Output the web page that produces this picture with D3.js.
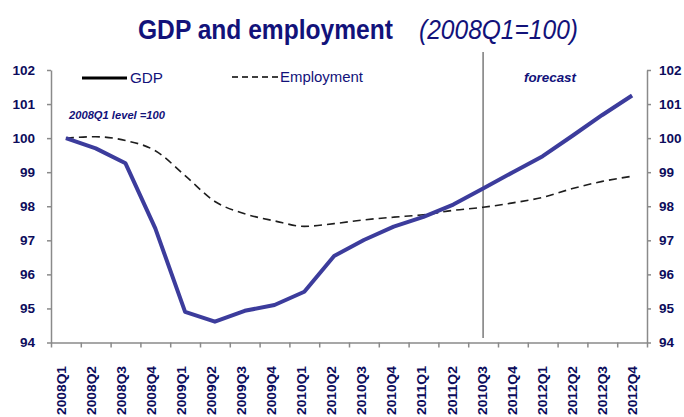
<!DOCTYPE html>
<html>
<head>
<meta charset="utf-8">
<script src="https://cdn.jsdelivr.net/npm/d3@7"></script>
<style>
  html, body { margin: 0; padding: 0; background: #fff; }
  svg { display: block; font-family: "Liberation Sans", Arial, sans-serif; }
</style>
</head>
<body>
<svg id="chart" width="684" height="417"></svg>
<script>
// Quarterly index, 2008Q1 = 100
const quarters = ["2008Q1","2008Q2","2008Q3","2008Q4","2009Q1","2009Q2","2009Q3","2009Q4",
  "2010Q1","2010Q2","2010Q3","2010Q4","2011Q1","2011Q2","2010Q3","2011Q4",
  "2012Q1","2012Q2","2012Q3","2012Q4"];
const gdp = [100.00, 99.70, 99.26, 97.35, 94.90, 94.61, 94.93, 95.10, 95.49, 96.54,
  97.01, 97.40, 97.69, 98.05, 98.52, 99.00, 99.47, 100.07, 100.68, 101.25];
const employment = [100.00, 100.04, 99.93, 99.63, 98.90, 98.14, 97.78, 97.57, 97.41, 97.49,
  97.60, 97.68, 97.75, 97.88, 97.97, 98.10, 98.26, 98.52, 98.73, 98.88];
const yTicks = [94, 95, 96, 97, 98, 99, 100, 101, 102];
const forecastStart = 14;

const navy = "#12127a";
const tickNavy = "#0c0c5c";
const axisGrey = "#8a8a8a";

const svg = d3.select("#chart");
const plot = { left: 51, right: 647, top: 70, bottom: 342.5 };

const idx = d3.range(quarters.length);
const x = d3.scaleBand().domain(idx).range([plot.left, plot.right]).padding(0);
const xEdge = d3.scaleLinear().domain([0, quarters.length]).range([plot.left, plot.right]);
const xLabel = d3.scalePoint().domain(idx).range([61, 632]);
const y = d3.scaleLinear().domain([94, 102]).range([plot.bottom, plot.top]);
const cx = i => x(i) + x.bandwidth() / 2;

// Title
const title = svg.append("g").attr("fill", navy);
title.append("text").attr("x", 138).attr("y", 39)
  .attr("font-size", 27).attr("font-weight", "bold")
  .attr("textLength", 255).attr("lengthAdjust", "spacingAndGlyphs")
  .text("GDP and employment");
title.append("text").attr("x", 419).attr("y", 39)
  .attr("font-size", 27).attr("font-style", "italic")
  .attr("textLength", 159).attr("lengthAdjust", "spacingAndGlyphs")
  .text("(2008Q1=100)");

// Forecast divider
svg.append("line")
  .attr("x1", cx(forecastStart)).attr("x2", cx(forecastStart))
  .attr("y1", 52).attr("y2", 338)
  .attr("stroke", "#7a7a7a").attr("stroke-width", 1.5);

svg.append("text").attr("x", 524).attr("y", 82)
  .attr("font-size", 13).attr("font-style", "italic").attr("font-weight", "bold")
  .attr("fill", navy).attr("textLength", 52).attr("lengthAdjust", "spacingAndGlyphs")
  .text("forecast");

svg.append("text").attr("x", 69).attr("y", 119)
  .attr("font-size", 11).attr("font-style", "italic").attr("font-weight", "bold")
  .attr("fill", navy).attr("textLength", 96).attr("lengthAdjust", "spacingAndGlyphs")
  .text("2008Q1 level =100");

// Axes
function styleAxis(g) {
  g.select(".domain").attr("stroke", axisGrey).attr("stroke-width", 1.5);
  g.selectAll(".tick line").attr("stroke", axisGrey).attr("stroke-width", 1.5);
  g.selectAll(".tick text").attr("fill", tickNavy).attr("font-weight", "bold")
    .attr("font-size", 13.5).attr("font-family", "Liberation Sans, Arial, sans-serif");
}

svg.append("g").attr("transform", `translate(${plot.left},0)`)
  .call(d3.axisLeft(y).tickValues(yTicks).tickSize(4).tickPadding(12).tickSizeOuter(0))
  .call(styleAxis);

svg.append("g").attr("transform", `translate(${plot.right},0)`)
  .call(d3.axisRight(y).tickValues(yTicks).tickSize(4).tickPadding(8).tickSizeOuter(0))
  .call(styleAxis);

svg.append("g").attr("transform", `translate(0,${plot.bottom})`)
  .call(d3.axisBottom(xEdge).tickValues(d3.range(quarters.length + 1)).tickFormat("")
    .tickSize(5).tickSizeOuter(0))
  .call(styleAxis);

const xLab = svg.append("g").attr("transform", "translate(0,366)")
  .call(d3.axisBottom(xLabel).tickSize(0).tickFormat(i => quarters[i]));
xLab.select(".domain").remove();
xLab.selectAll(".tick text")
  .attr("transform", "rotate(-90)")
  .attr("x", 0).attr("y", 0).attr("dy", "0.36em")
  .attr("text-anchor", "end")
  .attr("fill", tickNavy).attr("font-weight", "bold").attr("font-size", 12)
  .attr("font-family", "Liberation Sans, Arial, sans-serif")
  .attr("textLength", 49).attr("lengthAdjust", "spacingAndGlyphs");

// Series
const empLine = d3.line().x((d, i) => cx(i)).y(d => y(d)).curve(d3.curveMonotoneX);
const gdpLine = d3.line().x((d, i) => cx(i)).y(d => y(d));

svg.append("path").datum(employment)
  .attr("d", empLine).attr("fill", "none")
  .attr("stroke", "#1e1e1e").attr("stroke-width", 1.6)
  .attr("stroke-dasharray", "8,5");

svg.append("path").datum(gdp)
  .attr("d", gdpLine).attr("fill", "none")
  .attr("stroke", "#3c3c9c").attr("stroke-width", 4)
  .attr("stroke-linejoin", "round");

// Legend
const legend = svg.append("g");
legend.append("line").attr("x1", 82).attr("x2", 127).attr("y1", 78).attr("y2", 78)
  .attr("stroke", "#000").attr("stroke-width", 3);
legend.append("text").attr("x", 130).attr("y", 83)
  .attr("font-size", 14.5).attr("fill", navy)
  .attr("textLength", 33).attr("lengthAdjust", "spacingAndGlyphs").text("GDP");
legend.append("line").attr("x1", 232).attr("x2", 278).attr("y1", 77).attr("y2", 77)
  .attr("stroke", "#000").attr("stroke-width", 1.6).attr("stroke-dasharray", "6,4");
legend.append("text").attr("x", 280).attr("y", 81.5)
  .attr("font-size", 14.5).attr("fill", navy)
  .attr("textLength", 83).attr("lengthAdjust", "spacingAndGlyphs").text("Employment");
</script>
</body>
</html>
